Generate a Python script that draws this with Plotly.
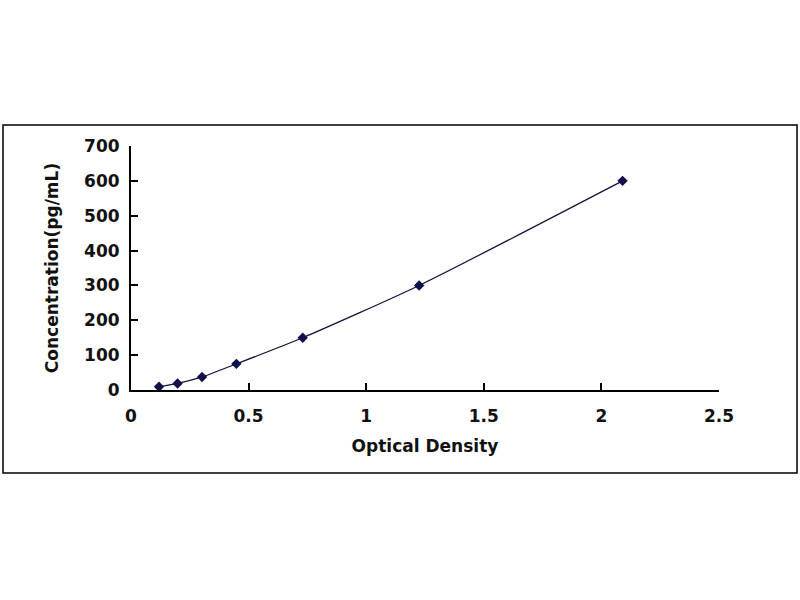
import plotly.graph_objects as go

optical_density = [0.119, 0.198, 0.302, 0.448, 0.730, 1.225, 2.090]
concentration = [9.375, 18.75, 37.5, 75, 150, 300, 600]
x_ticks = [0, 0.5, 1, 1.5, 2, 2.5]
x_tick_labels = ["0", "0.5", "1", "1.5", "2", "2.5"]
y_ticks = [0, 100, 200, 300, 400, 500, 600, 700]

FONT = "DejaVu Sans"

fig = go.Figure()
fig.add_trace(go.Scatter(
    x=optical_density, y=concentration,
    mode="lines+markers",
    line=dict(color="#10103a", width=1.2, shape="spline", smoothing=0.6),
    marker=dict(symbol="diamond", size=8, color="#10104a"),
    showlegend=False,
))

fig.update_layout(
    width=800, height=600,
    margin=dict(l=131, r=81, t=146, b=210),
    paper_bgcolor="white", plot_bgcolor="white",
    font=dict(family=FONT, color="#111111"),
    xaxis=dict(
        range=[0, 2.5], tickvals=x_ticks, ticktext=x_tick_labels,
        showgrid=False, zeroline=False, showline=True, linecolor="black", linewidth=2,
        ticks="inside", ticklen=7, tickwidth=2, tickcolor="black",
        ticklabelstandoff=10,
        tickfont=dict(family=FONT, size=17, color="#111111", weight="bold"),
        title=dict(text="<b>Optical Density</b>", font=dict(family=FONT, size=17, color="#111111"), standoff=15),
    ),
    yaxis=dict(
        range=[0, 700], tickvals=y_ticks,
        showgrid=False, zeroline=False, showline=True, linecolor="black", linewidth=2,
        ticks="inside", ticklen=7, tickwidth=2, tickcolor="black",
        ticklabelstandoff=6,
        tickfont=dict(family=FONT, size=17, color="#111111", weight="bold"),
        title=dict(text="<b>Concentration(pg/mL)</b>", font=dict(family=FONT, size=17, color="#111111"), standoff=21),
    ),
    shapes=[dict(
        type="rect", xref="paper", yref="paper",
        x0=-0.2177, x1=1.1327, y0=-0.340, y1=1.0861,
        line=dict(color="black", width=1.5), fillcolor="rgba(0,0,0,0)", layer="below",
    )],
)

fig.write_html("out.html", config={"displayModeBar": False},
               post_script="document.body.style.margin='0';")
